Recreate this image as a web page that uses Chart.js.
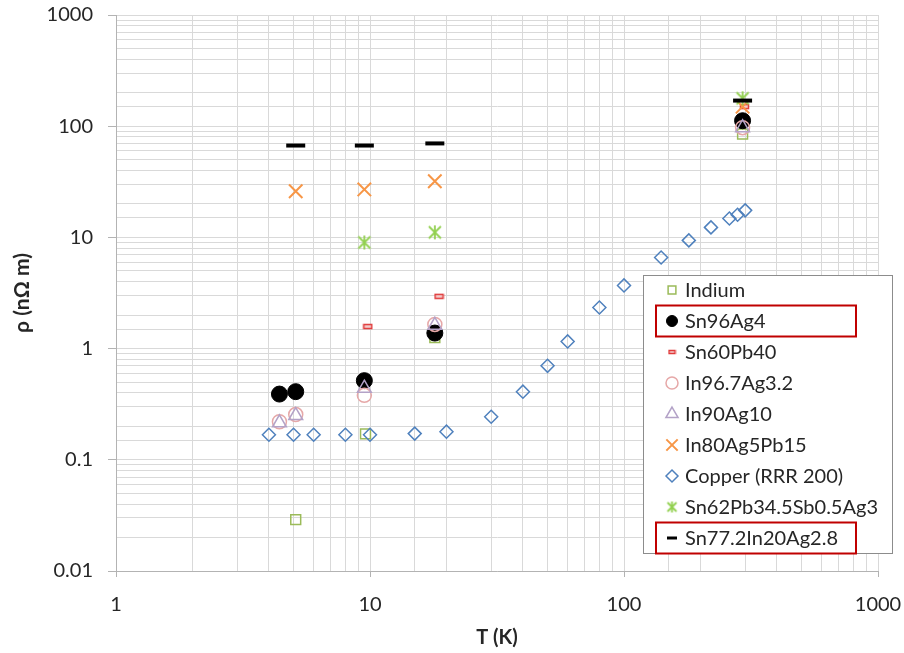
<!DOCTYPE html>
<html>
<head>
<meta charset="utf-8">
<title>Resistivity vs temperature</title>
<script src="https://cdn.jsdelivr.net/npm/chart.js@4"></script>
<style>
  html, body { margin: 0; padding: 0; background: #fff; }
</style>
</head>
<body>
<canvas id="rho-chart" width="904" height="653"></canvas>
<script>
(function () {
    // [T (K), rho (nOhm m)] per alloy
    const indium = [[5.1, 0.029], [9.6, 0.171], [18, 1.26], [293, 85]];
    const sn96ag4 = [[4.4, 0.39], [5.1, 0.41], [9.5, 0.515], [18, 1.38], [293, 112]];
    const sn60pb40 = [[9.8, 1.58], [18.7, 2.95], [298, 150]];
    const in967ag32 = [[4.4, 0.22], [5.1, 0.255], [9.5, 0.38], [18, 1.65], [293, 97]];
    const in90ag10 = [[4.4, 0.215], [5.1, 0.25], [9.5, 0.44], [18, 1.62], [293, 97]];
    const in80ag5pb15 = [[5.1, 26], [9.5, 27], [18, 32], [293, 150]];
    const copperT = [4, 5, 6, 8, 10, 15, 20, 30, 40, 50, 60, 80, 100, 140, 180, 220, 260, 280, 300];
    const copperRho = [0.168, 0.168, 0.168, 0.168, 0.168, 0.172, 0.179, 0.244, 0.41, 0.70, 1.16,
        2.34, 3.7, 6.6, 9.4, 12.3, 14.8, 16, 17.5];
    const sn62pb = [[9.5, 9.0], [18, 11.1], [293, 178]];
    const sn772in20 = [[5.1, 67], [9.5, 67], [18, 70], [293, 170]];

    const xTickLabels = ['1', '10', '100', '1000'];
    const yTickLabels = ['0.01', '0.1', '1', '10', '100', '1000'];
    const highlighted = ['Sn96Ag4', 'Sn77.2In20Ag2.8'];

    const FONT = 'Lato, "Liberation Sans", sans-serif';
    const TEXT = '#262626';

    function pts(pairs) {
        return pairs.map(p => ({x: p[0], y: p[1]}));
    }

    function isDecade(v) {
        const l = Math.log10(v);
        return Math.abs(l - Math.round(l)) < 1e-6;
    }

    function decadeLabel(v, labels) {
        if (!isDecade(v)) return '';
        return labels.find(s => Math.abs(parseFloat(s) - v) < v * 1e-6) || '';
    }

    // small red bar marker (Sn60Pb40)
    function makeBar(w, h) {
        const c = document.createElement('canvas');
        c.width = w + 3;
        c.height = h + 3;
        const g = c.getContext('2d');
        g.fillStyle = '#f5cfcf';
        g.fillRect(1.5, 1.5, w, h);
        g.strokeStyle = '#e03a3a';
        g.lineWidth = 1.5;
        g.strokeRect(1.5, 1.5, w, h);
        return c;
    }

    // six-armed asterisk (Sn62Pb34.5Sb0.5Ag3)
    function makeStar(size) {
        const c = document.createElement('canvas');
        c.width = size + 2;
        c.height = size + 2;
        const g = c.getContext('2d');
        const a = 1, b = size + 1, m = (size + 2) / 2;
        g.strokeStyle = '#92d050';
        g.lineWidth = 1.8;
        g.beginPath();
        g.moveTo(a + 1, a + 1); g.lineTo(b - 1, b - 1);
        g.moveTo(b - 1, a + 1); g.lineTo(a + 1, b - 1);
        g.moveTo(m, a); g.lineTo(m, b);
        g.stroke();
        return c;
    }

    const none = 'rgba(0,0,0,0)';
    const datasets = [
        {label: 'Indium', data: pts(indium), pointStyle: 'rect', pointRadius: 7,
            borderColor: '#9bbb59', backgroundColor: none, borderWidth: 1.5, legendRadius: 5.5},
        {label: 'Sn96Ag4', data: pts(sn96ag4), pointStyle: 'circle', pointRadius: 8,
            borderColor: '#000', backgroundColor: '#000', borderWidth: 1, legendRadius: 5.5},
        {label: 'Sn60Pb40', data: pts(sn60pb40), pointStyle: makeBar(8, 4),
            borderColor: '#e03a3a', backgroundColor: none, borderWidth: 1.5, legendStyle: makeBar(6, 3)},
        {label: 'In96.7Ag3.2', data: pts(in967ag32), pointStyle: 'circle', pointRadius: 7,
            borderColor: '#e6a8a8', backgroundColor: none, borderWidth: 1.5, legendRadius: 6},
        {label: 'In90Ag10', data: pts(in90ag10), pointStyle: 'triangle', pointRadius: 8,
            borderColor: '#b3a2c7', backgroundColor: none, borderWidth: 1.5, legendRadius: 7},
        {label: 'In80Ag5Pb15', data: pts(in80ag5pb15), pointStyle: 'crossRot', pointRadius: 9.5,
            borderColor: '#f79646', backgroundColor: none, borderWidth: 2, legendRadius: 8},
        {label: 'Copper (RRR 200)', data: copperT.map((t, i) => ({x: t, y: copperRho[i]})),
            pointStyle: 'rectRot', pointRadius: 6.5,
            borderColor: '#4f81bd', backgroundColor: none, borderWidth: 1.5, legendRadius: 6},
        {label: 'Sn62Pb34.5Sb0.5Ag3', data: pts(sn62pb), pointStyle: makeStar(14),
            borderColor: '#92d050', backgroundColor: none, borderWidth: 1.8, legendStyle: makeStar(11)},
        {label: 'Sn77.2In20Ag2.8', data: pts(sn772in20), pointStyle: 'line', pointRadius: 9.5,
            borderColor: '#000', backgroundColor: '#000', borderWidth: 4, legendRadius: 5, legendWidth: 3},
    ];
    // later series painted on top
    datasets.forEach((ds, i) => {
        ds.order = datasets.length - i;
        ds.pointHoverRadius = ds.pointRadius;
    });

    // boxed legend sitting inside the plot area
    const boxLegend = {
        id: 'boxLegend',
        afterDraw(chart) {
            const ctx = chart.ctx;
            const left = 643.5, top = 275.5, w = 249, h = 278;
            const rowTop = 290, rowStep = 31, markX = 672, textX = 685;
            ctx.save();
            ctx.fillStyle = '#fff';
            ctx.fillRect(left, top, w, h);
            ctx.strokeStyle = '#8c8c8c';
            ctx.lineWidth = 1;
            ctx.strokeRect(left, top, w, h);

            chart.data.datasets.forEach((ds, i) => {
                const y = rowTop + i * rowStep;
                ctx.strokeStyle = ds.borderColor;
                ctx.fillStyle = ds.backgroundColor;
                ctx.lineWidth = ds.legendWidth || ds.borderWidth;
                Chart.helpers.drawPoint(ctx, {
                    pointStyle: ds.legendStyle || ds.pointStyle,
                    radius: ds.legendRadius || 5,
                    rotation: 0,
                    borderWidth: ds.legendWidth || ds.borderWidth,
                }, markX, y);

                ctx.fillStyle = TEXT;
                ctx.font = '20px ' + FONT;
                ctx.textAlign = 'left';
                ctx.textBaseline = 'middle';
                ctx.fillText(ds.label, textX, y + 1);

                if (highlighted.includes(ds.label)) {
                    ctx.strokeStyle = '#c00000';
                    ctx.lineWidth = 2;
                    ctx.strokeRect(656, y - 15.5, 200, 31);
                }
            });
            ctx.restore();
        }
    };

    const axisColor = '#b3b3b3';
    const gridColor = '#d9d9d9';
    const tickMark = c => (c.tick && isDecade(c.tick.value)) ? axisColor : none;

    new Chart(document.getElementById('rho-chart'), {
        type: 'scatter',
        data: {datasets: datasets},
        plugins: [boxLegend],
        options: {
            responsive: false,
            animation: false,
            events: [],
            layout: {padding: {top: 15, right: 26, left: 0, bottom: 0}},
            plugins: {
                legend: {display: false},
                tooltip: {enabled: false},
            },
            scales: {
                x: {
                    type: 'logarithmic',
                    min: 1,
                    max: 1000,
                    afterFit(scale) {
                        // fixed band under the plot; end labels may overhang
                        scale.height = 82;
                        scale.paddingLeft = 0;
                        scale.paddingRight = 0;
                    },
                    border: {color: axisColor},
                    grid: {color: gridColor, tickLength: 6, tickColor: tickMark},
                    ticks: {
                        autoSkip: false,
                        maxRotation: 0,
                        padding: 16,
                        color: TEXT,
                        font: {family: FONT, size: 20},
                        callback: v => decadeLabel(v, xTickLabels),
                    },
                    title: {
                        display: true,
                        text: 'T (K)',
                        color: TEXT,
                        font: {family: FONT, size: 20, weight: 'bold'},
                        padding: {top: 0, bottom: 3},
                    },
                },
                y: {
                    type: 'logarithmic',
                    min: 0.01,
                    max: 1000,
                    afterFit(scale) {
                        scale.width = 116;
                        scale.paddingTop = 0;
                        scale.paddingBottom = 0;
                    },
                    border: {color: axisColor},
                    grid: {color: gridColor, tickLength: 8, tickColor: tickMark},
                    ticks: {
                        autoSkip: false,
                        padding: 15,
                        color: TEXT,
                        font: {family: FONT, size: 20},
                        callback: v => decadeLabel(v, yTickLabels),
                    },
                    title: {
                        display: true,
                        text: 'ρ (nΩ m)',
                        color: TEXT,
                        font: {family: FONT, size: 21, weight: 'bold'},
                        padding: {top: 10, bottom: 0},
                    },
                },
            },
        },
    });
})();
</script>
</body>
</html>
